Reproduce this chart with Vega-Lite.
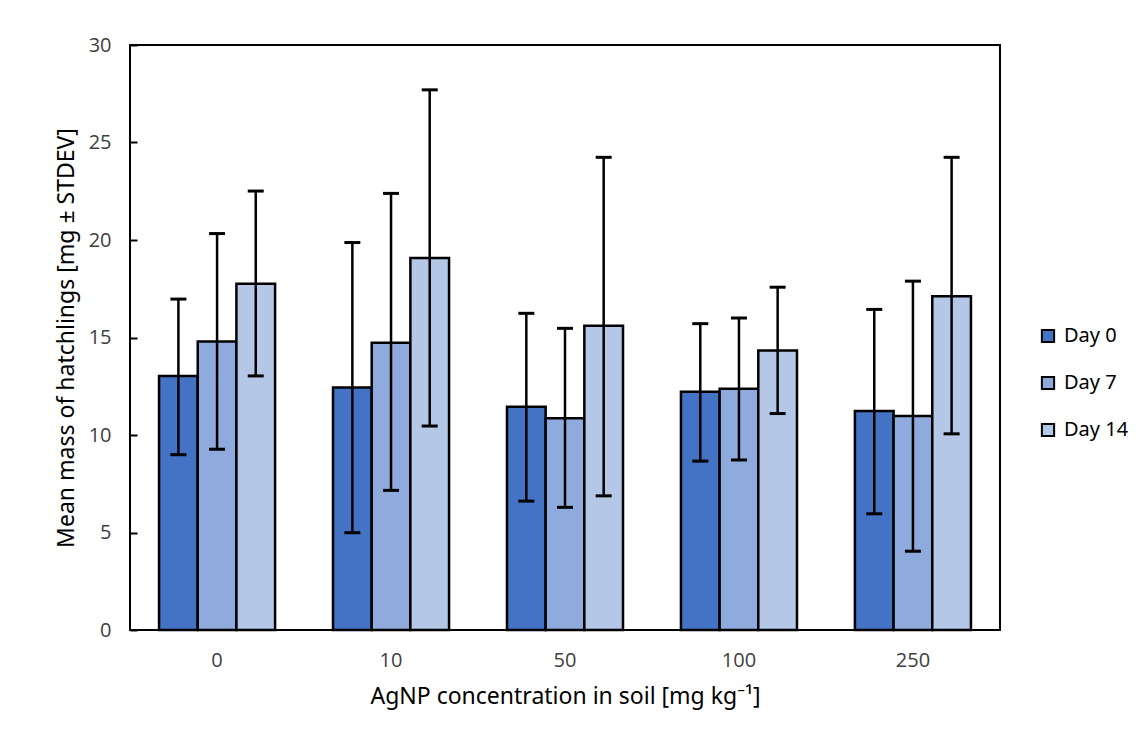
{
  "$schema": "https://vega.github.io/schema/vega-lite/v6.json",
  "width": 870,
  "height": 585,
  "autosize": {"type": "none"},
  "padding": {"left": 130, "top": 45, "right": 143, "bottom": 110},
  "background": "white",
  "config": {
    "view": {"stroke": "black", "strokeWidth": 2},
    "font": "Open Sans"
  },
  "data": {
    "values": [
      {"conc": "0", "day": "Day 0", "mean": 13.03, "lo": 8.99, "hi": 16.97},
      {"conc": "0", "day": "Day 7", "mean": 14.8, "lo": 9.27, "hi": 20.33},
      {"conc": "0", "day": "Day 14", "mean": 17.76, "lo": 13.03, "hi": 22.51},
      {"conc": "10", "day": "Day 0", "mean": 12.44, "lo": 4.99, "hi": 19.87},
      {"conc": "10", "day": "Day 7", "mean": 14.73, "lo": 7.16, "hi": 22.39},
      {"conc": "10", "day": "Day 14", "mean": 19.08, "lo": 10.46, "hi": 27.7},
      {"conc": "50", "day": "Day 0", "mean": 11.45, "lo": 6.61, "hi": 16.24},
      {"conc": "50", "day": "Day 7", "mean": 10.86, "lo": 6.29, "hi": 15.47},
      {"conc": "50", "day": "Day 14", "mean": 15.6, "lo": 6.88, "hi": 24.24},
      {"conc": "100", "day": "Day 0", "mean": 12.22, "lo": 8.66, "hi": 15.71},
      {"conc": "100", "day": "Day 7", "mean": 12.37, "lo": 8.72, "hi": 16.0},
      {"conc": "100", "day": "Day 14", "mean": 14.33, "lo": 11.1, "hi": 17.58},
      {"conc": "250", "day": "Day 0", "mean": 11.23, "lo": 5.96, "hi": 16.44},
      {"conc": "250", "day": "Day 7", "mean": 10.97, "lo": 4.04, "hi": 17.89},
      {"conc": "250", "day": "Day 14", "mean": 17.12, "lo": 10.06, "hi": 24.24}
    ]
  },
  "encoding": {
    "x": {
      "field": "conc",
      "type": "ordinal",
      "sort": ["0", "10", "50", "100", "250"],
      "scale": {"paddingInner": 0.333, "paddingOuter": 0.167},
      "axis": {
        "title": "AgNP concentration in soil [mg kg⁻¹]",
        "labelAngle": 0,
        "ticks": false,
        "domain": false,
        "labelFont": "Open Sans",
        "labelFontSize": 20,
        "labelColor": "#404040",
        "labelPadding": 20,
        "titleFont": "Noto Sans",
        "titleFontSize": 23,
        "titleFontWeight": "normal",
        "titleColor": "black",
        "titlePadding": 15
      }
    },
    "xOffset": {
      "field": "day",
      "type": "nominal",
      "sort": ["Day 0", "Day 7", "Day 14"],
      "scale": {"paddingInner": 0, "paddingOuter": 0}
    }
  },
  "layer": [
    {
      "mark": {"type": "bar", "stroke": "black", "strokeWidth": 2.5},
      "encoding": {
        "y": {
          "field": "mean",
          "type": "quantitative",
          "scale": {"domain": [0, 30]},
          "axis": {
            "title": "Mean mass of hatchlings [mg ± STDEV]",
            "values": [0, 5, 10, 15, 20, 25, 30],
            "grid": false,
            "domain": false,
            "tickSize": -7,
            "tickWidth": 2,
            "tickColor": "black",
            "labelFont": "Open Sans",
            "labelFontSize": 20,
            "labelColor": "#404040",
            "labelPadding": 26,
            "titleFont": "Noto Sans",
            "titleFontSize": 23,
            "titleFontWeight": "normal",
            "titleColor": "black",
            "titlePadding": 10
          }
        },
        "color": {
          "field": "day",
          "type": "nominal",
          "sort": ["Day 0", "Day 7", "Day 14"],
          "scale": {"domain": ["Day 0", "Day 7", "Day 14"], "range": ["#4472C4", "#8FAADC", "#B4C7E7"]},
          "legend": {
            "title": null,
            "orient": "none",
            "legendX": 908,
            "legendY": 281,
            "symbolType": "square",
            "symbolSize": 150,
            "symbolStrokeColor": "black",
            "symbolStrokeWidth": 2,
            "symbolOpacity": 1,
            "labelFont": "Noto Sans",
            "labelFontSize": 20,
            "labelColor": "black",
            "rowPadding": 25,
            "labelOffset": 6
          }
        }
      }
    },
    {
      "mark": {"type": "rule", "color": "black", "strokeWidth": 2.5},
      "encoding": {
        "y": {"field": "lo", "type": "quantitative"},
        "y2": {"field": "hi"}
      }
    },
    {
      "mark": {"type": "tick", "color": "black", "thickness": 3, "size": 16, "opacity": 1},
      "encoding": {
        "y": {"field": "lo", "type": "quantitative"}
      }
    },
    {
      "mark": {"type": "tick", "color": "black", "thickness": 3, "size": 16, "opacity": 1},
      "encoding": {
        "y": {"field": "hi", "type": "quantitative"}
      }
    }
  ]
}
